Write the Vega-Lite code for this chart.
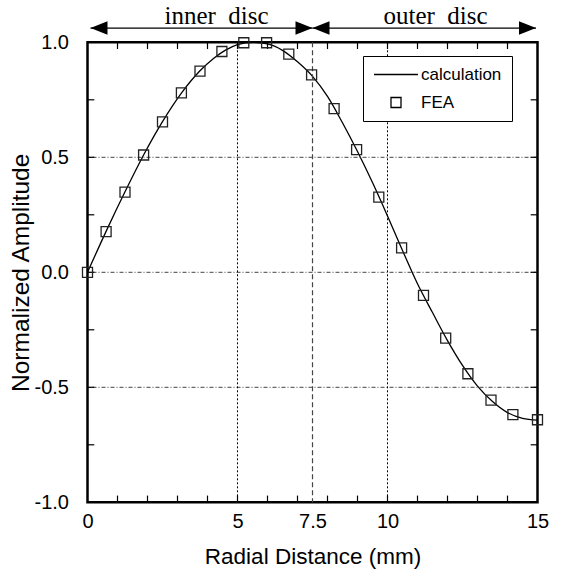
{
  "$schema": "https://vega.github.io/schema/vega-lite/v6.json",
  "width": 450,
  "height": 460,
  "autosize": {"type": "none"},
  "padding": {"left": 87.5, "top": 42.3, "right": 26.5, "bottom": 74.7},
  "background": "white",
  "config": {
    "view": {"stroke": "black", "strokeWidth": 2.5},
    "axis": {"domain": false, "grid": false, "ticks": false, "labelColor": "black", "titleColor": "black", "labelFont": "Liberation Sans", "titleFont": "Liberation Sans", "titleFontWeight": "normal"}
  },
  "layer": [
    {
      "data": {"values": [
        {"x": 0, "y": 0}, {"x": 0.62, "y": 0.178}, {"x": 1.25, "y": 0.35}, {"x": 1.87, "y": 0.51}, {"x": 2.5, "y": 0.655},
        {"x": 3.13, "y": 0.779}, {"x": 3.75, "y": 0.876}, {"x": 4.2, "y": 0.93}, {"x": 4.6, "y": 0.966}, {"x": 5.0, "y": 0.99},
        {"x": 5.5, "y": 1.0}, {"x": 6.0, "y": 0.993}, {"x": 6.5, "y": 0.965}, {"x": 7.0, "y": 0.915}, {"x": 7.5, "y": 0.852},
        {"x": 8.0, "y": 0.765}, {"x": 8.5, "y": 0.65}, {"x": 9.0, "y": 0.525}, {"x": 9.5, "y": 0.39}, {"x": 10.0, "y": 0.245},
        {"x": 10.5, "y": 0.095}, {"x": 11.0, "y": -0.05}, {"x": 11.5, "y": -0.175}, {"x": 12.0, "y": -0.297}, {"x": 12.5, "y": -0.405},
        {"x": 13.0, "y": -0.495}, {"x": 13.5, "y": -0.562}, {"x": 14.0, "y": -0.61}, {"x": 14.5, "y": -0.635}, {"x": 15.0, "y": -0.643}
      ]},
      "mark": {"type": "line", "color": "black", "strokeWidth": 1.3, "interpolate": "monotone"},
      "encoding": {
        "x": {"field": "x", "type": "quantitative", "scale": {"domain": [0, 15], "nice": false, "zero": false},
          "axis": {"orient": "bottom", "values": [0, 5, 7.5, 10, 15], "format": "~g",
            "labelPadding": 9, "labelFontSize": 20, "labelOverlap": false, "labelFlush": false,
            "title": "Radial Distance (mm)", "titleFontSize": 22.5, "titlePadding": 14}},
        "y": {"field": "y", "type": "quantitative", "scale": {"domain": [-1, 1], "nice": false, "zero": false},
          "axis": {"orient": "left", "values": [-1, -0.5, 0, 0.5, 1],
            "labelExpr": "(datum.value < 0 ? '-' : '') + format(abs(datum.value), '.1f')",
            "labelPadding": 19, "labelFontSize": 20, "labelOverlap": false, "labelFlush": false,
            "title": "Normalized Amplitude", "titleFontSize": 24.5, "titlePadding": 1}}
      }
    },
    {
      "data": {"values": [{"v": -0.5}, {"v": 0}, {"v": 0.5}]},
      "mark": {"type": "rule", "color": "#444", "strokeDash": [4, 2, 1, 2], "strokeWidth": 1},
      "encoding": {"y": {"field": "v", "type": "quantitative", "scale": {"domain": [-1, 1], "nice": false, "zero": false}}}
    },
    {
      "data": {"values": [{"v": 5}, {"v": 10}]},
      "mark": {"type": "rule", "color": "black", "strokeDash": [2, 2], "strokeWidth": 1},
      "encoding": {"x": {"field": "v", "type": "quantitative", "scale": {"domain": [0, 15], "nice": false, "zero": false}}}
    },
    {
      "data": {"values": [{"v": 7.5}]},
      "mark": {"type": "rule", "color": "#444", "strokeDash": [5, 3], "strokeWidth": 1.2},
      "encoding": {"x": {"field": "v", "type": "quantitative", "scale": {"domain": [0, 15], "nice": false, "zero": false}}}
    },
    {
      "data": {"values": [{"v": 1}, {"v": 2}, {"v": 3}, {"v": 4}, {"v": 5}, {"v": 6}, {"v": 7}, {"v": 8}, {"v": 9}, {"v": 10}, {"v": 11}, {"v": 12}, {"v": 13}, {"v": 14}]},
      "mark": {"type": "tick", "orient": "vertical", "size": 7, "thickness": 1.2, "color": "black", "opacity": 1},
      "encoding": {
        "x": {"field": "v", "type": "quantitative", "scale": {"domain": [0, 15], "nice": false, "zero": false}},
        "y": {"datum": -0.986, "type": "quantitative", "scale": {"domain": [-1, 1], "nice": false, "zero": false}}
      }
    },
    {
      "data": {"values": [{"v": 1}, {"v": 2}, {"v": 3}, {"v": 4}, {"v": 5}, {"v": 6}, {"v": 7}, {"v": 8}, {"v": 9}, {"v": 10}, {"v": 11}, {"v": 12}, {"v": 13}, {"v": 14}]},
      "mark": {"type": "tick", "orient": "vertical", "size": 7, "thickness": 1.2, "color": "black", "opacity": 1},
      "encoding": {
        "x": {"field": "v", "type": "quantitative", "scale": {"domain": [0, 15], "nice": false, "zero": false}},
        "y": {"datum": 0.986, "type": "quantitative", "scale": {"domain": [-1, 1], "nice": false, "zero": false}}
      }
    },
    {
      "data": {"values": [{"v": -0.75}, {"v": -0.5}, {"v": -0.25}, {"v": 0}, {"v": 0.25}, {"v": 0.5}, {"v": 0.75}]},
      "mark": {"type": "tick", "orient": "horizontal", "size": 7, "thickness": 1.2, "color": "black", "opacity": 1},
      "encoding": {
        "y": {"field": "v", "type": "quantitative", "scale": {"domain": [-1, 1], "nice": false, "zero": false}},
        "x": {"datum": 0.11, "type": "quantitative", "scale": {"domain": [0, 15], "nice": false, "zero": false}}
      }
    },
    {
      "data": {"values": [{"v": -0.75}, {"v": -0.5}, {"v": -0.25}, {"v": 0}, {"v": 0.25}, {"v": 0.5}, {"v": 0.75}]},
      "mark": {"type": "tick", "orient": "horizontal", "size": 7, "thickness": 1.2, "color": "black", "opacity": 1},
      "encoding": {
        "y": {"field": "v", "type": "quantitative", "scale": {"domain": [-1, 1], "nice": false, "zero": false}},
        "x": {"datum": 14.89, "type": "quantitative", "scale": {"domain": [0, 15], "nice": false, "zero": false}}
      }
    },
    {
      "data": {"values": [
        {"x": 0, "y": 0, "s": "FEA"}, {"x": 0.62, "y": 0.177, "s": "FEA"}, {"x": 1.25, "y": 0.349, "s": "FEA"}, {"x": 1.87, "y": 0.51, "s": "FEA"},
        {"x": 2.5, "y": 0.654, "s": "FEA"}, {"x": 3.13, "y": 0.78, "s": "FEA"}, {"x": 3.75, "y": 0.875, "s": "FEA"}, {"x": 4.48, "y": 0.96, "s": "FEA"},
        {"x": 5.21, "y": 0.998, "s": "FEA"}, {"x": 5.97, "y": 0.998, "s": "FEA"}, {"x": 6.71, "y": 0.949, "s": "FEA"}, {"x": 7.47, "y": 0.858, "s": "FEA"},
        {"x": 8.22, "y": 0.712, "s": "FEA"}, {"x": 8.97, "y": 0.533, "s": "FEA"}, {"x": 9.71, "y": 0.327, "s": "FEA"}, {"x": 10.47, "y": 0.106, "s": "FEA"},
        {"x": 11.2, "y": -0.1, "s": "FEA"}, {"x": 11.94, "y": -0.286, "s": "FEA"}, {"x": 12.68, "y": -0.441, "s": "FEA"}, {"x": 13.45, "y": -0.556, "s": "FEA"},
        {"x": 14.18, "y": -0.619, "s": "FEA"}, {"x": 15, "y": -0.641, "s": "FEA"}
      ]},
      "mark": {"type": "point", "filled": false, "color": "#222", "strokeWidth": 1.3, "size": 100, "opacity": 1},
      "encoding": {
        "x": {"field": "x", "type": "quantitative", "scale": {"domain": [0, 15], "nice": false, "zero": false}},
        "y": {"field": "y", "type": "quantitative", "scale": {"domain": [-1, 1], "nice": false, "zero": false}},
        "shape": {"field": "s", "type": "nominal", "scale": {"domain": ["calculation", "FEA"], "range": ["M-4.4,0L4.4,0", "square"]},
          "legend": {"title": null, "orient": "none", "legendX": 275.5, "legendY": 13.7, "fillColor": "white", "strokeColor": "black",
            "padding": 10, "symbolSize": 100, "symbolStrokeWidth": 1.3, "symbolStrokeColor": "black", "symbolFillColor": "transparent",
            "labelFont": "Liberation Sans", "labelFontSize": 17, "labelColor": "black", "rowPadding": 10, "symbolOffset": 14.5, "labelOffset": 16.5}}
      }
    },
    {
      "data": {"values": [{"x": 0.1, "x2": 7.5}, {"x": 7.5, "x2": 14.95}]},
      "mark": {"type": "rule", "color": "black", "strokeWidth": 1.2},
      "encoding": {
        "x": {"field": "x", "type": "quantitative", "scale": {"domain": [0, 15], "nice": false, "zero": false}},
        "x2": {"field": "x2"},
        "y": {"datum": 1.062, "type": "quantitative", "scale": {"domain": [-1, 1], "nice": false, "zero": false}}
      }
    },
    {
      "data": {"values": [{"x": 7.5}, {"x": 14.95}]},
      "mark": {"type": "point", "shape": "M0,0L-2,-0.8L-2,0.8Z", "filled": true, "color": "black", "size": 289, "opacity": 1},
      "encoding": {
        "x": {"field": "x", "type": "quantitative", "scale": {"domain": [0, 15], "nice": false, "zero": false}},
        "y": {"datum": 1.062, "type": "quantitative", "scale": {"domain": [-1, 1], "nice": false, "zero": false}}
      }
    },
    {
      "data": {"values": [{"x": 0.1}, {"x": 7.5}]},
      "mark": {"type": "point", "shape": "M0,0L2,-0.8L2,0.8Z", "filled": true, "color": "black", "size": 289, "opacity": 1},
      "encoding": {
        "x": {"field": "x", "type": "quantitative", "scale": {"domain": [0, 15], "nice": false, "zero": false}},
        "y": {"datum": 1.062, "type": "quantitative", "scale": {"domain": [-1, 1], "nice": false, "zero": false}}
      }
    },
    {
      "data": {"values": [{"t": "inner\u00a0 disc", "x": 4.3}, {"t": "outer\u00a0 disc", "x": 11.6}]},
      "mark": {"type": "text", "font": "Liberation Serif", "fontSize": 25, "baseline": "alphabetic", "align": "center", "color": "black"},
      "encoding": {
        "x": {"field": "x", "type": "quantitative", "scale": {"domain": [0, 15], "nice": false, "zero": false}},
        "y": {"datum": 1.079, "type": "quantitative", "scale": {"domain": [-1, 1], "nice": false, "zero": false}},
        "text": {"field": "t"}
      }
    }
  ]
}
